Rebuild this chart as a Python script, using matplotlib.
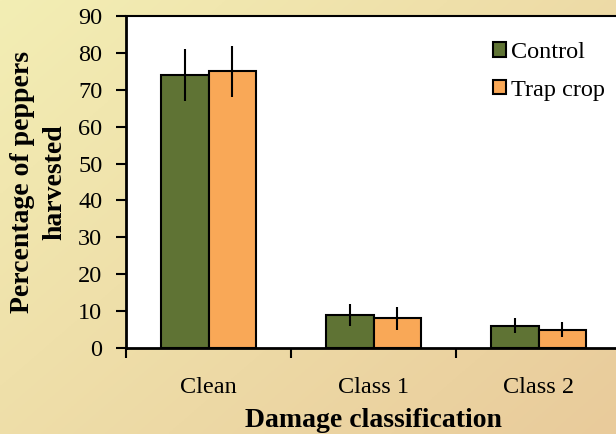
import numpy as np
import matplotlib
matplotlib.use("Agg")
import matplotlib.pyplot as plt

categories = ["Clean", "Class 1", "Class 2"]
series_names = ["Control", "Trap crop"]
control = [74, 9, 6]
control_err = [7, 3, 2]
trap = [75, 8, 5]
trap_err = [7, 3, 2]
yticks = [0, 10, 20, 30, 40, 50, 60, 70, 80, 90]

plt.rcParams['font.family'] = ['Liberation Serif', 'DejaVu Serif']

W, H = 616, 434
fig = plt.figure(figsize=(W / 100, H / 100), dpi=100)

# background gradient
bg = fig.add_axes([0, 0, 1, 1], zorder=-10)
yy, xx = np.mgrid[0:1:200j, 0:1:200j]
t = (xx * 0.55 + yy * 0.45)
c0 = np.array([0xF3, 0xEE, 0xB4]) / 255
c1 = np.array([0xE9, 0xCB, 0x9B]) / 255
img = c0[None, None, :] * (1 - t[..., None]) + c1[None, None, :] * t[..., None]
bg.imshow(img, aspect='auto', extent=[0, 1, 0, 1], origin='upper')
bg.axis('off')

left = 126 / W
right = 621 / W
bottom = 1 - 348 / H
top = 1 - 16 / H
ax = fig.add_axes([left, bottom, right - left, top - bottom])
ax.set_facecolor('white')

x = np.arange(len(categories))
bw = 0.285
green = '#5F7334'
orange = '#F9A857'
ax.bar(x - bw / 2, control, bw, color=green, edgecolor='black', linewidth=1.5,
       yerr=control_err, error_kw=dict(ecolor='black', elinewidth=1.5, capsize=0), label=series_names[0], zorder=3)
ax.bar(x + bw / 2, trap, bw, color=orange, edgecolor='black', linewidth=1.5,
       yerr=trap_err, error_kw=dict(ecolor='black', elinewidth=1.5, capsize=0), label=series_names[1], zorder=3)

ax.set_xlim(-0.5, 2.5)
ax.set_ylim(0, 90)
ax.set_yticks(yticks)
ax.set_yticklabels([str(v) for v in yticks], fontsize=17.5)
ax.set_xticks([-0.5, 0.5, 1.5, 2.5])
ax.set_xticklabels([])
ax.set_xticks(x, minor=True)
ax.set_xticklabels(categories, minor=True, fontsize=17.5)
ax.tick_params(axis='x', which='minor', length=0, pad=21)
ax.tick_params(axis='x', which='major', direction='out', length=7, width=1.5)
ax.tick_params(axis='y', direction='out', length=7, width=1.5, pad=10)

ax.spines['right'].set_visible(False)
ax.spines['top'].set_linewidth(1.5)
ax.spines['left'].set_linewidth(2)
ax.spines['bottom'].set_linewidth(2)

ax.set_xlabel("Damage classification", fontsize=20, fontweight='bold', labelpad=7)
ax.set_ylabel("Percentage of peppers\nharvested", fontsize=20, fontweight='bold', labelpad=8, linespacing=1.37)

leg = ax.legend(loc='upper left', bbox_to_anchor=(0.721, 0.95), frameon=False, fontsize=17.5,
                handlelength=0.54, handleheight=0.54, handletextpad=0.22, labelspacing=0.68,
                borderaxespad=0)

fig.savefig('out.png', dpi=100)
